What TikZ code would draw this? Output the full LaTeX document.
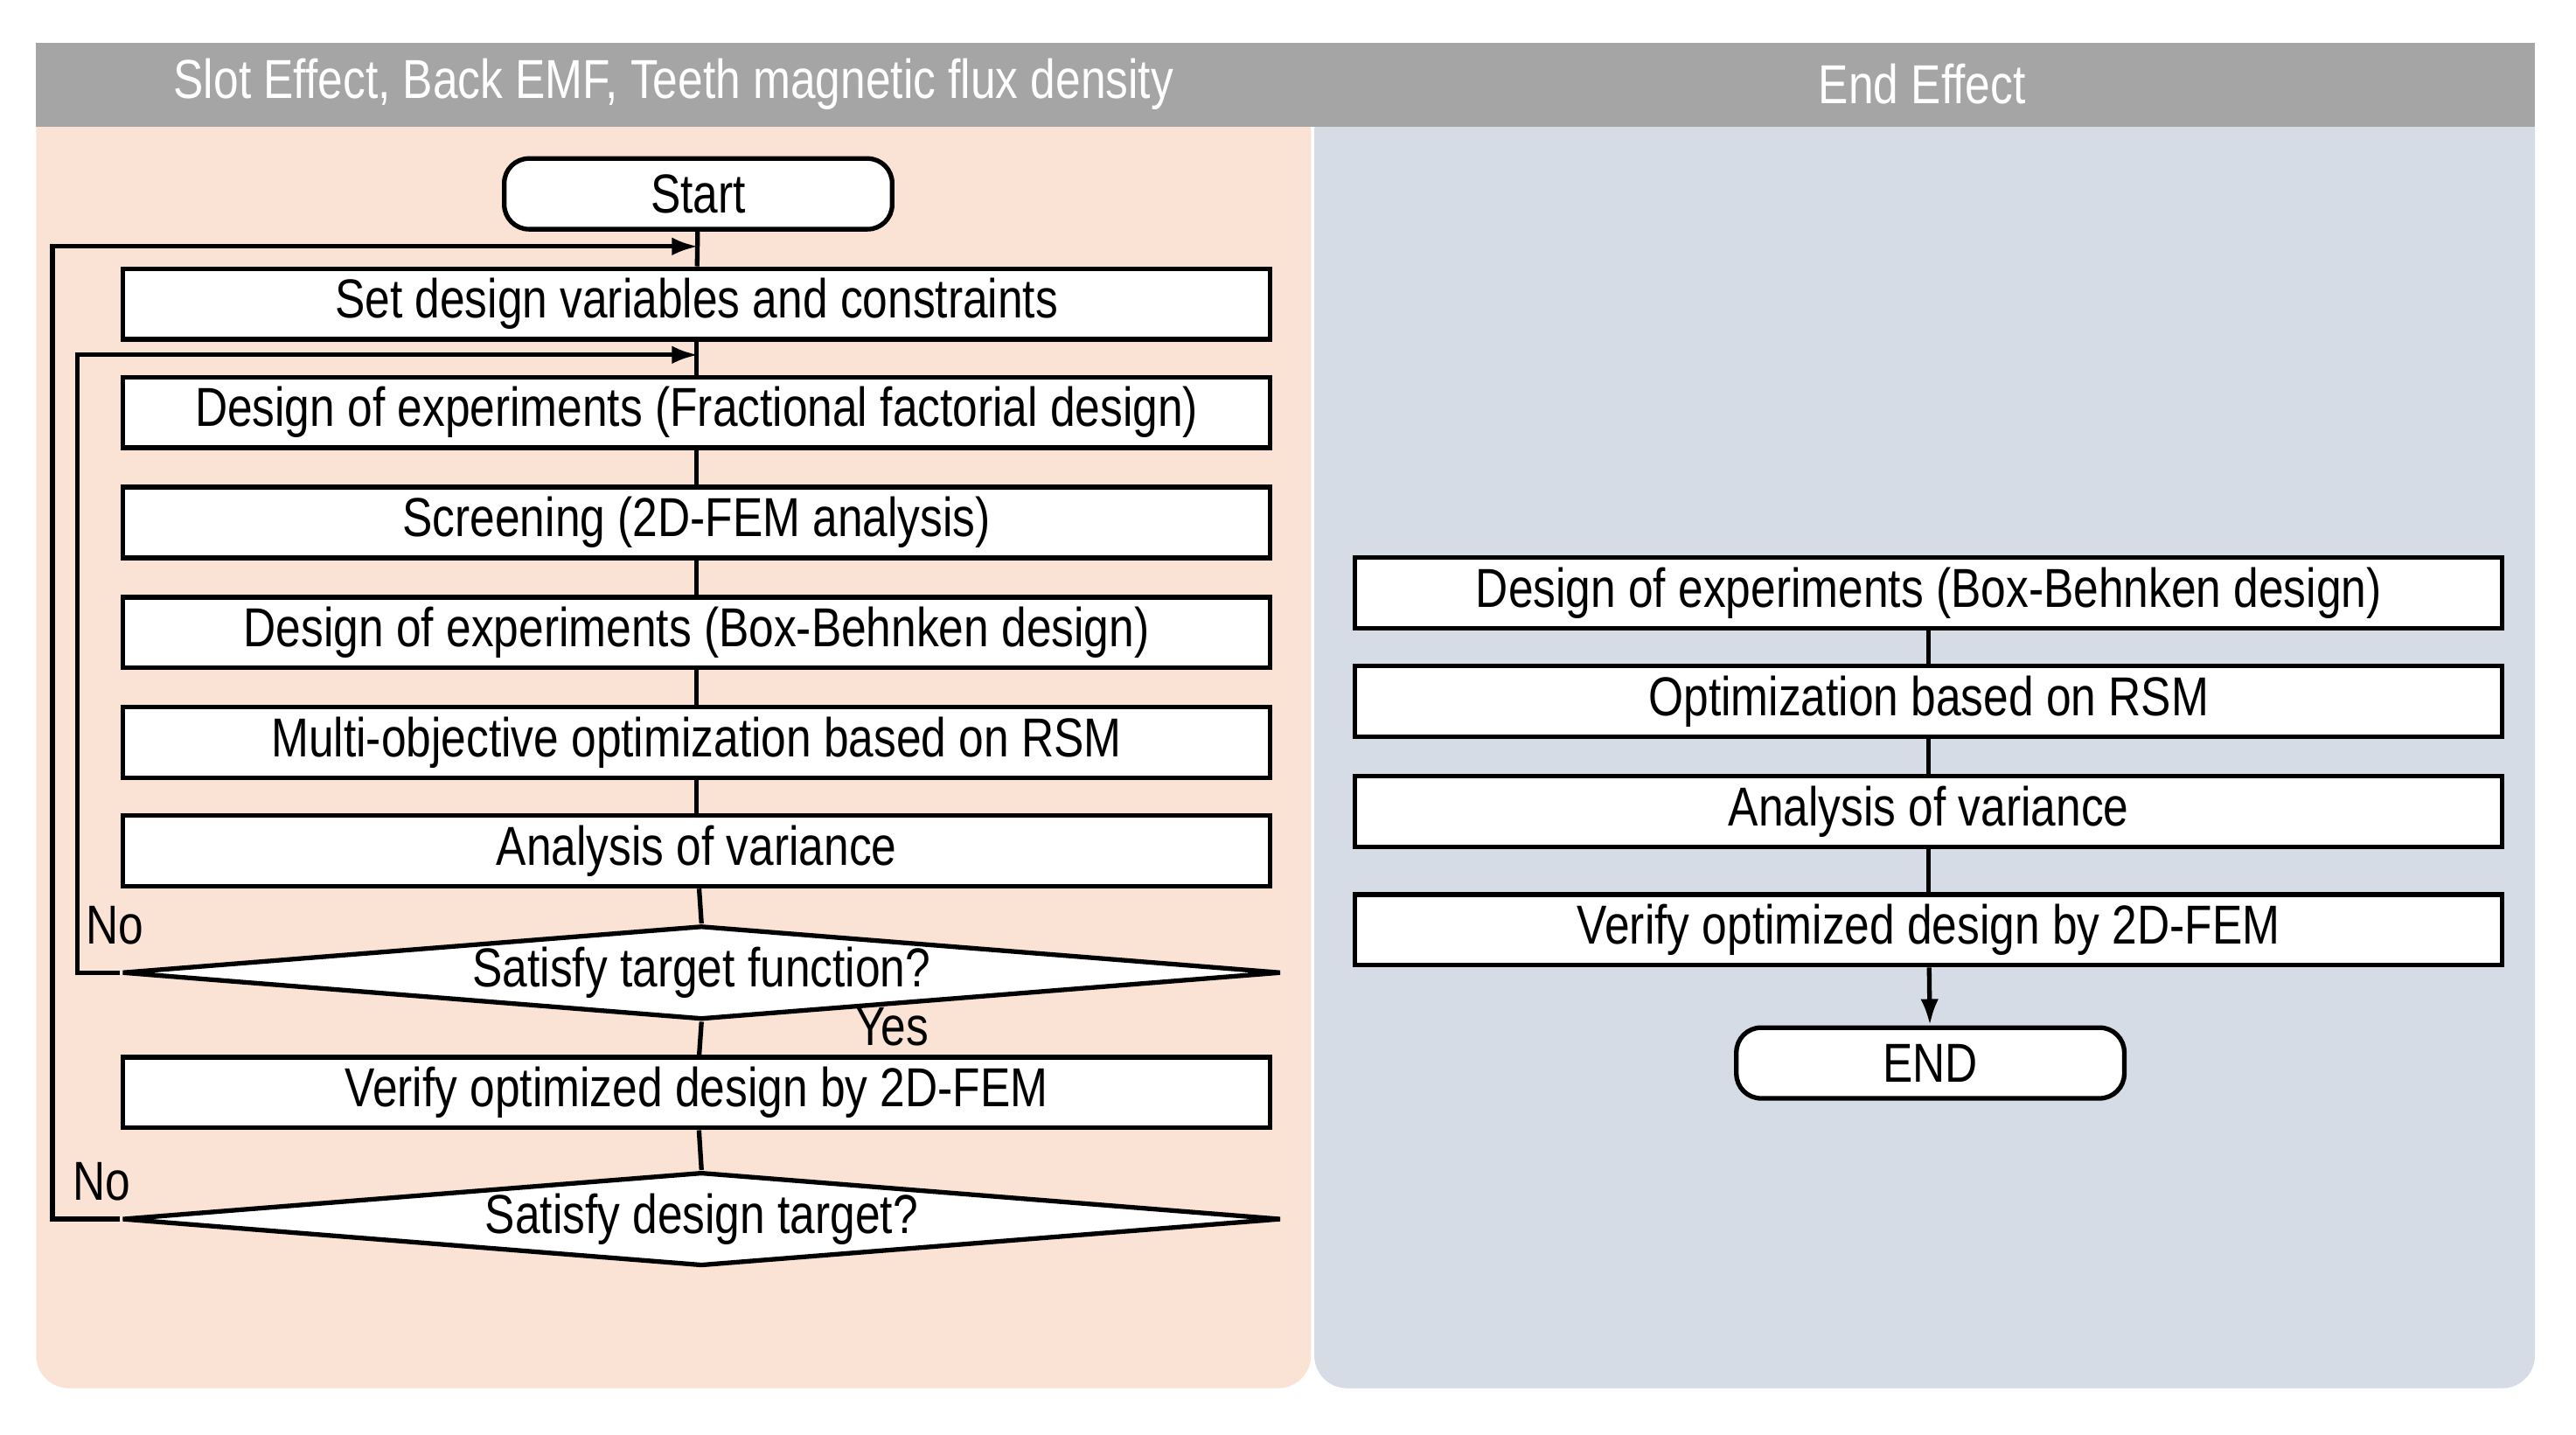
\documentclass[tikz,border=0pt]{standalone}
\usepackage{fontspec}
\setmainfont{Liberation Sans}[FakeStretch=0.82]
\usetikzlibrary{%
  arrows.meta,%
  shapes.geometric,% wg. diamond
  positioning% wg. " of "
}
\definecolor{headgray}{RGB}{165,165,165}
\definecolor{peach}{RGB}{250,227,212}
\definecolor{bluegray}{RGB}{214,220,229}
\tikzset{
  stage/.style={draw, thick, fill=white, minimum width=6.98cm, minimum height=0.43cm, inner sep=0pt, font=\fontsize{9.5}{10}\selectfont},
  term/.style={stage, rounded corners=1.5mm, minimum width=2.36cm},
  test/.style={draw, thick, fill=white, diamond, aspect=12.4, minimum width=7.05cm, minimum height=0.57cm, inner sep=0pt, font=\fontsize{9.5}{10}\selectfont},
  lbl/.style={font=\fontsize{9.5}{10}\selectfont, inner sep=0pt}
}
\begin{document}
\begin{tikzpicture}[x=0.01cm, y=-0.01cm, thick]
    \useasboundingbox (0,0) rectangle (1568,873);
    %panels
    \fill[peach, rounded corners=2mm] (22,60) rectangle (798,845);
    \fill[bluegray, rounded corners=2mm] (800,60) rectangle (1543,845);
    \fill[headgray] (22,26) rectangle (1543,77);
    \node[lbl, text=white] (head_left) at (410,51) {Slot Effect, Back EMF, Teeth magnetic flux density};
    \node[lbl, text=white] (head_right) at (1170,51) {End Effect};

    %left flow
    \node[term] (start) at (425,118) {Start};
    \node[stage] (vars) at (424,185) {Set design variables and constraints};
    \node[stage] (ffd) at (424,251) {Design of experiments (Fractional factorial design)};
    \node[stage] (screen) at (424,318) {Screening (2D-FEM analysis)};
    \node[stage] (bbd) at (424,385) {Design of experiments (Box-Behnken design)};
    \node[stage] (moo) at (424,452) {Multi-objective optimization based on RSM};
    \node[stage] (anova) at (424,518) {Analysis of variance};
    \node[test] (target) at (427,592) {Satisfy target function?};
    \node[stage] (verify) at (424,665) {Verify optimized design by 2D-FEM};
    \node[test] (design) at (427,742) {Satisfy design target?};
    \node[lbl] (no_1) at (70,563) {No};
    \node[lbl] (yes) at (543,625) {Yes};
    \node[lbl] (no_2) at (62,719) {No};
    \coordinate (in_1) at (425,216);
    \coordinate (in_2) at (425,150);

    %right flow
    \node[stage] (bbd_r) at (1174,361) {Design of experiments (Box-Behnken design)};
    \node[stage] (opt_r) at (1174,427) {Optimization based on RSM};
    \node[stage] (anova_r) at (1174,494) {Analysis of variance};
    \node[stage] (verify_r) at (1174,566) {Verify optimized design by 2D-FEM};
    \node[term] (end) at (1175,647) {END};

    \draw (start) -- (vars);
    \draw (vars) -- (ffd);
    \draw (ffd) -- (screen);
    \draw (screen) -- (bbd);
    \draw (bbd) -- (moo);
    \draw (moo) -- (anova);
    \draw (anova) -- (target.north);
    \draw (target.south) -- (verify);
    \draw (verify) -- (design.north);
    \draw[-{Latex[length=1.6mm,width=1.1mm]}] (target.west) -| (47,216) -- (in_1);
    \draw[-{Latex[length=1.6mm,width=1.1mm]}] (design.west) -| (32,150) -- (in_2);

    \draw (bbd_r) -- (opt_r);
    \draw (opt_r) -- (anova_r);
    \draw (anova_r) -- (verify_r);
    \draw[-{Latex[length=1.6mm,width=1.1mm]}] (verify_r) -- (end);
\end{tikzpicture}
\end{document}
